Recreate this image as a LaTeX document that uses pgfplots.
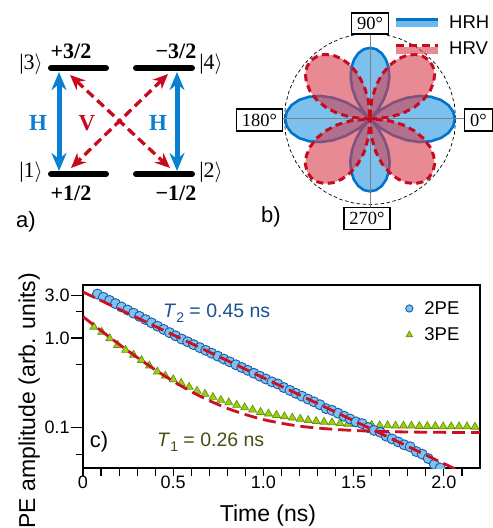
\documentclass[border=0pt]{standalone}
\usepackage{fontspec}
\setmainfont{Liberation Sans}
\newfontfamily\serif{Liberation Serif}
\usepackage{pgfplots}
\pgfplotsset{compat=1.18}
\usepgfplotslibrary{polar}
\usetikzlibrary{arrows.meta}

\definecolor{hblue}{RGB}{10,128,210}
\definecolor{hrhline}{RGB}{0,115,205}
\definecolor{hrhfill}{RGB}{110,185,235}
\definecolor{vred}{RGB}{200,10,30}
\definecolor{hrvfill}{RGB}{215,60,75}
\definecolor{pefill}{RGB}{125,195,240}
\definecolor{peedge}{RGB}{25,90,165}
\definecolor{trifill}{RGB}{160,205,20}
\definecolor{triedge}{RGB}{95,150,10}
\definecolor{ttwo}{RGB}{25,80,150}
\definecolor{tone}{RGB}{70,80,20}
\definecolor{fitred}{RGB}{205,15,35}

\newcommand{\fs}[1]{\fontsize{#1}{#1}\selectfont}

% polar data (angle in degrees, radius)
\pgfplotstableread{
a r
0 0.990
5 0.975
10 0.930
15 0.857
20 0.758
25 0.636
30 0.495
35 0.339
40 0.172
45 0.000
50 0.144
55 0.284
60 0.415
65 0.534
70 0.636
75 0.719
80 0.780
85 0.818
90 0.830
95 0.818
100 0.780
105 0.719
110 0.636
115 0.534
120 0.415
125 0.284
130 0.144
135 0.000
140 0.172
145 0.339
150 0.495
155 0.636
160 0.758
165 0.857
170 0.930
175 0.975
180 0.990
185 0.975
190 0.930
195 0.857
200 0.758
205 0.636
210 0.495
215 0.339
220 0.172
225 0.000
230 0.147
235 0.289
240 0.422
245 0.543
250 0.647
255 0.731
260 0.793
265 0.832
270 0.845
275 0.832
280 0.793
285 0.731
290 0.647
295 0.543
300 0.422
305 0.289
310 0.147
315 0.000
320 0.172
325 0.339
330 0.495
335 0.636
340 0.758
345 0.857
350 0.930
355 0.975
360 0.990
}\hrh

\pgfplotstableread{
a r
0 0.000
5 0.219
10 0.390
15 0.538
20 0.666
25 0.773
30 0.858
35 0.921
40 0.957
45 0.970
50 0.957
55 0.921
60 0.858
65 0.773
70 0.666
75 0.538
80 0.390
85 0.219
90 0.000
95 0.219
100 0.390
105 0.538
110 0.666
115 0.773
120 0.858
125 0.921
130 0.957
135 0.970
140 0.957
145 0.921
150 0.858
155 0.773
160 0.666
165 0.538
170 0.390
175 0.219
180 0.000
185 0.219
190 0.390
195 0.538
200 0.666
205 0.773
210 0.858
215 0.921
220 0.957
225 0.970
230 0.957
235 0.921
240 0.858
245 0.773
250 0.666
255 0.538
260 0.390
265 0.219
270 0.000
275 0.219
280 0.390
285 0.538
290 0.666
295 0.773
300 0.858
305 0.921
310 0.957
315 0.970
320 0.957
325 0.921
330 0.858
335 0.773
340 0.666
345 0.538
350 0.390
355 0.219
360 0.000
}\hrv

\begin{document}
\begin{tikzpicture}

% ---------- b) polar plot ----------
\begin{polaraxis}[at={(370pt,409pt)}, anchor=center, scale only axis,
  width=171.4pt, height=171.4pt, xmin=0, xmax=360, ymin=0, ymax=1,
  hide axis, clip=false]
\addplot[black, line width=0.7pt, dash pattern=on 3.5pt off 2.5pt] coordinates {
  (0,1) (10,1) (20,1) (30,1) (40,1) (50,1) (60,1) (70,1) (80,1) (90,1)
  (100,1) (110,1) (120,1) (130,1) (140,1) (150,1) (160,1) (170,1) (180,1)
  (190,1) (200,1) (210,1) (220,1) (230,1) (240,1) (250,1) (260,1) (270,1)
  (280,1) (290,1) (300,1) (310,1) (320,1) (330,1) (340,1) (350,1) (360,1)};
\addplot[draw=hrhline, line width=2.6pt, fill=hrhfill, fill opacity=0.9] table[x=a,y=r] {\hrh};
\addplot[gray, line width=1pt] coordinates {(0,1.1) (180,1.1)};
\addplot[gray, line width=1pt] coordinates {(90,1.0) (270,1.03)};
\addplot[draw=vred, line width=3pt, dash pattern=on 7pt off 4.5pt,
  fill=hrvfill, fill opacity=0.6] table[x=a,y=r] {\hrv};
\end{polaraxis}

% ---------- canvas in pixel units (y down) ----------
\begin{axis}[at={(0pt,0pt)}, anchor=south west, scale only axis,
  width=493pt, height=528pt, xmin=0, xmax=493, ymin=0, ymax=528,
  y dir=reverse, hide axis, clip=false]
% a) levels
\addplot[black, line width=6pt, line cap=round] coordinates {(51,68) (106,68)};
\addplot[black, line width=6pt, line cap=round] coordinates {(136,68) (192,68)};
\addplot[black, line width=6pt, line cap=round] coordinates {(51,174) (106,174)};
\addplot[black, line width=6pt, line cap=round] coordinates {(136,174) (192,174)};
\addplot[hblue, line width=5pt,
  arrows={Stealth[length=18pt,width=15pt]-Stealth[length=18pt,width=15pt]}]
  coordinates {(59,72) (59,171)};
\addplot[hblue, line width=5pt,
  arrows={Stealth[length=18pt,width=15pt]-Stealth[length=18pt,width=15pt]}]
  coordinates {(177,72) (177,171)};
\addplot[vred, line width=3.3pt, dash pattern=on 9pt off 5pt,
  arrows={Stealth[length=15pt,width=13pt]-Stealth[length=15pt,width=13pt]}]
  coordinates {(70,75) (170,168)};
\addplot[vred, line width=3.3pt, dash pattern=on 9pt off 5pt,
  arrows={Stealth[length=15pt,width=13pt]-Stealth[length=15pt,width=13pt]}]
  coordinates {(168,74) (71,168)};
\node[hblue, font=\serif\bfseries\fs{23}] at (38,123) {H};
\node[hblue, font=\serif\bfseries\fs{23}] at (158,123) {H};
\node[vred, font=\serif\bfseries\fs{23}] at (87,123) {V};
\node[font=\fs{22}, inner sep=0] at (31,64) {{\serif|3}$\rangle$};
\node[font=\fs{22}, inner sep=0] at (211,64) {{\serif|4}$\rangle$};
\node[font=\fs{22}, inner sep=0] at (31,172) {{\serif|1}$\rangle$};
\node[font=\fs{22}, inner sep=0] at (211,172) {{\serif|2}$\rangle$};
\node[font=\serif\bfseries\fs{22}, inner sep=0] at (71,51) {+3/2};
\node[font=\serif\bfseries\fs{22}, inner sep=0] at (176,51) {−3/2};
\node[font=\serif\bfseries\fs{22}, inner sep=0] at (71,193) {+1/2};
\node[font=\serif\bfseries\fs{22}, inner sep=0] at (176,193) {−1/2};
\node[font=\fs{22}, inner sep=0] at (26,222) {a)};
% b) boxes and legend
\node[draw, fill=white, line width=1.2pt, font=\serif\fs{18.5}, inner xsep=5.5pt,
  inner ysep=0pt, minimum height=21pt] at (370,23.5) {90°};
\node[draw, fill=white, line width=1.2pt, font=\serif\fs{18.5}, inner xsep=5.5pt,
  inner ysep=0pt, minimum height=22pt] at (259.5,120) {180°};
\node[draw, fill=white, line width=1.2pt, font=\serif\fs{18.5}, inner xsep=5.5pt,
  inner ysep=0pt, minimum height=22pt] at (478.5,120) {0°};
\node[draw, fill=white, line width=1.2pt, font=\serif\fs{18.5}, inner xsep=5.5pt,
  inner ysep=0pt, minimum height=22pt] at (367,218.5) {270°};
\addplot[hrhfill, line width=6pt] coordinates {(396,23.5) (438,23.5)};
\addplot[hrhline, line width=3.5pt] coordinates {(396,19.5) (438,19.5)};
\addplot[hrvfill, opacity=0.6, line width=7pt] coordinates {(396,50) (438,50)};
\addplot[vred, line width=3pt, dash pattern=on 8pt off 5pt] coordinates {(396,45) (438,45)};
\node[font=\fs{18.5}, anchor=west, inner sep=0] at (449,21.7) {HRH};
\node[font=\fs{18.5}, anchor=west, inner sep=0] at (449,48.3) {HRV};
\node[font=\fs{22}, inner sep=0] at (271,217) {b)};
% c) texts
\node[ttwo, font=\fs{19.5}, anchor=base west, inner sep=0] at (163,317)
  {\textit{T}\raisebox{-5pt}{\fs{14}2} = 0.45 ns};
\node[tone, font=\fs{19.5}, anchor=base west, inner sep=0] at (157,446.7)
  {\textit{T}\raisebox{-5pt}{\fs{14}1} = 0.26 ns};
\node[font=\fs{22}, inner sep=0] at (99,441.7) {c)};
\node[rotate=90, anchor=base east, font=\fs{23}, inner sep=0] at (35,273)
  {2PE amplitude (arb. units)};
\node[anchor=base, font=\fs{23}, inner sep=0] at (268,521) {Time (ns)};
\end{axis}

% ---------- c) decay curves ----------
\begin{axis}[at={(83pt,60pt)}, anchor=south west, scale only axis,
  width=397pt, height=183pt,
  xmin=0, xmax=2.2, ymode=log, ymin=0.035, ymax=3.93,
  xtick={0,0.5,1,1.5,2}, xticklabels={0,0.5,1.0,1.5,2.0},
  minor xtick={0.1,0.2,0.3,0.4,0.6,0.7,0.8,0.9,1.1,1.2,1.3,1.4,1.6,1.7,1.8,1.9,2.1},
  ytick={0.1,1,3}, yticklabels={0.1,1.0,3.0},
  minor ytick={0.05,0.5,2},
  tick align=outside, xtick pos=bottom, ytick pos=left,
  xtick style={/pgfplots/major tick length=8pt, /pgfplots/minor tick length=8pt},
  ytick style={/pgfplots/major tick length=12pt, /pgfplots/minor tick length=7pt},
  every tick/.append style={black, line width=1.1pt},
  axis line style={line width=1.1pt},
  tick label style={font=\fs{18}},
  yticklabel style={xshift=-5.5pt},
  /pgf/number format/assume math mode=true,
  clip marker paths=true,
  legend image code/.code={\path[draw=none] (0cm,0cm) (0.71cm,0cm);
    \draw[#1] plot coordinates {(0.25cm,0cm)};},
  legend style={at={(rel axis cs:0.796,0.934)}, anchor=north west, draw=none,
    fill=none, font=\fs{18.5}, row sep=8pt},
  legend cell align=left,
]
\addlegendimage{only marks, mark=*, mark size=3.6pt,
  mark options={fill=pefill, draw=peedge, line width=0.9pt}}
\addlegendentry{2PE}
\addlegendimage{only marks, mark=triangle*, mark size=3.8pt,
  mark options={fill=trifill, draw=triedge, line width=0.7pt}}
\addlegendentry{3PE}

\addplot[forget plot, only marks, mark=triangle*, mark size=4.6pt,
  mark options={fill=trifill, draw=triedge, line width=0.7pt}] coordinates {
  (0.060,1.334) (0.104,1.170) (0.148,0.989) (0.192,0.832) (0.236,0.733)
  (0.280,0.647) (0.324,0.565) (0.368,0.490) (0.412,0.419) (0.456,0.378)
  (0.500,0.344) (0.544,0.312) (0.588,0.283) (0.632,0.256) (0.676,0.236)
  (0.720,0.218) (0.764,0.202) (0.808,0.190) (0.852,0.178) (0.896,0.167)
  (0.940,0.157) (0.984,0.148) (1.028,0.142) (1.072,0.137) (1.116,0.132)
  (1.160,0.128) (1.204,0.124) (1.248,0.120) (1.292,0.117) (1.336,0.115)
  (1.380,0.113) (1.424,0.111) (1.468,0.109) (1.512,0.108) (1.556,0.107)
  (1.600,0.106) (1.644,0.105) (1.688,0.105) (1.732,0.104) (1.776,0.104)
  (1.820,0.104) (1.864,0.103) (1.908,0.103) (1.952,0.103) (1.996,0.102)
  (2.040,0.102) (2.084,0.102) (2.128,0.102) (2.172,0.101)};

\addplot[forget plot, only marks, mark=*, mark size=5pt,
  mark options={fill=pefill, draw=peedge, line width=0.9pt}] coordinates {
  (0.080,3.11) (0.113,2.86) (0.147,2.64) (0.180,2.43) (0.213,2.23)
  (0.247,2.06) (0.280,1.90) (0.313,1.75) (0.347,1.61) (0.380,1.48)
  (0.413,1.36) (0.447,1.25) (0.480,1.15) (0.513,1.06) (0.547,0.975)
  (0.580,0.908) (0.613,0.843) (0.647,0.782) (0.680,0.728) (0.713,0.676)
  (0.747,0.627) (0.780,0.582) (0.813,0.542) (0.847,0.502) (0.880,0.467)
  (0.913,0.435) (0.947,0.403) (0.980,0.374) (1.013,0.348) (1.047,0.323)
  (1.080,0.306) (1.113,0.279) (1.147,0.259) (1.180,0.240) (1.213,0.223)
  (1.247,0.207) (1.280,0.193) (1.313,0.179) (1.347,0.162) (1.380,0.155)
  (1.413,0.144) (1.447,0.133) (1.480,0.124) (1.513,0.115) (1.547,0.110)
  (1.580,0.0993) (1.613,0.0923) (1.647,0.088) (1.680,0.0796) (1.713,0.0740)
  (1.747,0.0686) (1.780,0.0637) (1.813,0.0605) (1.847,0.0535) (1.880,0.0500)
  (1.913,0.0447) (1.947,0.0385) (1.980,0.0350)};

% fits
\addplot[forget plot, fitred, line width=2.8pt, dash pattern=on 13pt off 6pt]
  coordinates {(0,3.28) (2.2,0.0252)};
\addplot[forget plot, fitred, line width=2.8pt, dash pattern=on 13pt off 6pt, smooth]
  coordinates {
  (0,1.737) (0.05,1.448) (0.1,1.210) (0.15,1.014) (0.2,0.852) (0.25,0.718)
  (0.3,0.607) (0.35,0.517) (0.4,0.441) (0.5,0.328) (0.6,0.251) (0.7,0.199)
  (0.8,0.163) (0.9,0.139) (1.0,0.122) (1.1,0.111) (1.2,0.103) (1.3,0.0981)
  (1.4,0.0946) (1.5,0.0922) (1.6,0.0905) (1.7,0.0894) (1.8,0.0886)
  (1.9,0.0881) (2.0,0.0878) (2.1,0.0875) (2.2,0.0873)};
\end{axis}

\pgfresetboundingbox
\useasboundingbox (0,0) rectangle (493pt,528pt);
\end{tikzpicture}
\end{document}
